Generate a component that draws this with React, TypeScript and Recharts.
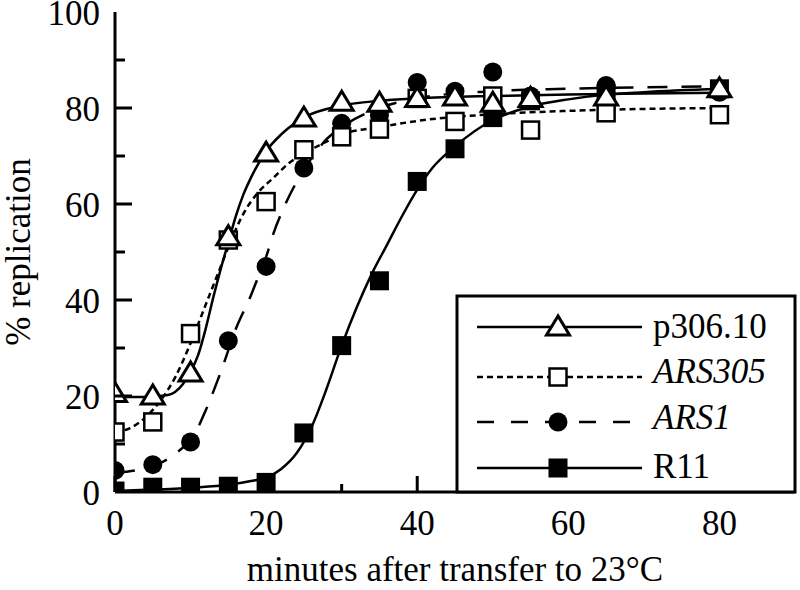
import React from 'react';
import { ComposedChart, Line, Scatter, XAxis, YAxis, Label } from 'recharts';

// sampling times (minutes)
const minutes = [0, 5, 10, 15, 20, 25, 30, 35, 40, 45, 50, 55, 65, 80];

// measured % replication
const p306 = [20.5, 20, 24.8, 53.2, 70.6, 77.9, 81.2, 81, 82, 82.3, 81, 82, 82.3, 84];
const ars305 = [12.5, 14.6, 33, 52.5, 60.5, 71.3, 74, 75.6, 82, 77.2, 82.5, 75.4, 79, 78.6];
const ars1 = [4.5, 5.7, 10.4, 31.5, 47, 67.5, 76.8, 78.5, 85.3, 83.5, 87.5, 82.5, 84.7, 83.3];
const r11 = [0.2, 1, 1, 1.2, 2, 12.3, 30.5, 44, 64.7, 71.5, 78, 81.5, 83, 84];

// fitted curves
const fitP306X = [0, 4, 7, 9, 10, 11, 12, 13, 14, 15, 16, 17, 18, 20, 22, 25, 30, 35, 40, 50, 60, 70, 80];
const fitP306Y = [19.8, 19.8, 20.2, 22.5, 25, 28.5, 34, 40.5, 46.5, 52, 57.5, 62, 65.5, 71, 74.5, 78, 80.5, 81.5, 82, 82.5, 82.8, 83, 83.2];
const fitArs305X = [0, 2, 4, 6, 8, 10, 12, 14, 15, 17, 19, 21, 23, 25, 28, 30, 35, 40, 50, 60, 70, 80];
const fitArs305Y = [12.5, 13.3, 15.5, 19, 24, 31, 39, 47, 51, 58, 62.5, 65.5, 68.5, 70.5, 73, 74.5, 76, 77.3, 78.7, 79.4, 79.8, 80];
const fitArs1X = [0, 3, 6, 8, 10, 11, 12, 14, 16, 18, 19, 20, 21, 22, 24, 26, 28, 30, 35, 40, 50, 60, 70, 80];
const fitArs1Y = [4, 4.6, 6, 8, 11, 13.5, 17, 25, 34, 41, 45, 49, 54, 58, 64.5, 69.5, 73.5, 76, 80, 82, 83.5, 84, 84.3, 84.5];
const fitR11X = [0, 5, 10, 15, 18, 20, 22, 24, 26, 28, 30, 32, 34, 36, 38, 40, 42, 45, 50, 55, 60, 65, 70, 80];
const fitR11Y = [0.2, 0.5, 0.9, 1.5, 2.3, 3, 4.8, 8, 13.5, 21.5, 30.5, 38.5, 45.5, 51.5, 57.5, 63, 67.5, 72, 77.5, 80.3, 81.8, 82.8, 83.3, 84];

const xTicks = [0, 10, 20, 30, 40, 50, 60, 70, 80];
const yTicks = [0, 10, 20, 30, 40, 50, 60, 70, 80, 90, 100];

const pts = (xs: number[], ys: number[]) => xs.map((x, i) => ({ x, y: ys[i] }));

const FONT = '"Liberation Serif", "Times New Roman", Times, serif';

const Txt = ({ x, y, anchor = 'middle', italic = false, rotate = 0, children }: any) => (
  <text
    transform={`translate(${x},${y}) rotate(${rotate})`}
    textAnchor={anchor}
    fontFamily={FONT}
    fontSize={35}
    fontStyle={italic ? 'italic' : 'normal'}
    fill="#000"
  >
    {children}
  </text>
);

const tickStroke = { stroke: '#000', strokeWidth: 3 };

const BottomTick = ({ x, y, payload }: any) => {
  const major = payload.value % 20 === 0;
  return (
    <g>
      <line x1={x} y1={y} x2={x} y2={y - (major ? 16 : 8)} {...tickStroke} />
      {major && <Txt x={x} y={y + 43}>{payload.value}</Txt>}
    </g>
  );
};

const TopTick = ({ x, y, payload }: any) => {
  const major = payload.value % 20 === 0;
  if (payload.value === 0) return <g />;
  return <line x1={x} y1={y} x2={x} y2={y + (major ? 14 : 8)} {...tickStroke} />;
};

const LeftTick = ({ x, y, payload }: any) => {
  const major = payload.value % 20 === 0;
  return (
    <g>
      {payload.value > 0 && payload.value < 100 && (
        <line x1={x} y1={y} x2={x + (major ? 17 : 10)} y2={y} {...tickStroke} />
      )}
      {major && <Txt x={x - 15} y={y + 13} anchor="end">{payload.value}</Txt>}
    </g>
  );
};

const RightTick = ({ x, y, payload }: any) => {
  const major = payload.value % 20 === 0;
  if (payload.value === 0 || payload.value === 100) return <g />;
  return <line x1={x} y1={y} x2={x - (major ? 17 : 8)} y2={y} {...tickStroke} />;
};

const Triangle = ({ cx, cy }: any) => (
  <polygon
    points={`${cx},${cy - 11} ${cx - 11.5},${cy + 8} ${cx + 11.5},${cy + 8}`}
    fill="#fff"
    stroke="#000"
    strokeWidth={3}
  />
);
const OpenSquare = ({ cx, cy }: any) => (
  <rect x={cx - 8.5} y={cy - 8.5} width={17} height={17} fill="#fff" stroke="#000" strokeWidth={2.5} />
);
const Dot = ({ cx, cy }: any) => <circle cx={cx} cy={cy} r={9.5} fill="#000" />;
const FilledSquare = ({ cx, cy }: any) => (
  <rect x={cx - 9.5} y={cy - 9.5} width={19} height={19} fill="#000" />
);

const legendRows = [
  { name: 'p306.10', italic: false, dash: undefined, Marker: Triangle },
  { name: 'ARS305', italic: true, dash: '6 4', Marker: OpenSquare },
  { name: 'ARS1', italic: true, dash: '17 17', Marker: Dot },
  { name: 'R11', italic: false, dash: undefined, Marker: FilledSquare },
];
const legendY = [327, 377, 422, 468];
const legendBase = [338, 383, 429, 478];

export default function App() {
  return (
    <div style={{ position: 'absolute', left: 0, top: 0, width: 800, height: 590, background: '#fff' }}>
      <ComposedChart width={800} height={590} margin={{ top: 12, right: 5, bottom: 38, left: 15 }}>
        <XAxis
          dataKey="x"
          type="number"
          domain={[0, 90]}
          ticks={xTicks}
          interval={0}
          allowDataOverflow
          height={60}
          tickSize={0}
          tickMargin={0}
          tickLine={false}
          tick={<BottomTick />}
          axisLine={{ stroke: '#000', strokeWidth: 3 }}
        >
          <Label
            content={({ viewBox }: any) => (
              <Txt x={viewBox.x + viewBox.width / 2} y={581}>minutes after transfer to 23°C</Txt>
            )}
          />
        </XAxis>
        <XAxis
          xAxisId="top"
          orientation="top"
          type="number"
          domain={[0, 90]}
          ticks={xTicks}
          interval={0}
          allowDataOverflow
          height={0}
          tickSize={0}
          tickMargin={0}
          tickLine={false}
          tick={<TopTick />}
          axisLine={{ stroke: '#000', strokeWidth: 3 }}
        />
        <YAxis
          dataKey="y"
          type="number"
          domain={[0, 100]}
          ticks={yTicks}
          interval={0}
          allowDataOverflow
          width={100}
          tickSize={0}
          tickMargin={0}
          tickLine={false}
          tick={<LeftTick />}
          axisLine={{ stroke: '#000', strokeWidth: 3 }}
        >
          <Label
            content={({ viewBox }: any) => (
              <Txt x={30} y={viewBox.y + viewBox.height / 2} rotate={-90}>% replication</Txt>
            )}
          />
        </YAxis>
        <YAxis
          yAxisId="right"
          orientation="right"
          type="number"
          domain={[0, 100]}
          ticks={yTicks}
          interval={0}
          allowDataOverflow
          width={0}
          tickSize={0}
          tickMargin={0}
          tickLine={false}
          tick={<RightTick />}
          axisLine={{ stroke: '#000', strokeWidth: 3 }}
        />

        <Line data={pts(fitR11X, fitR11Y)} dataKey="y" type="monotone" stroke="#000" strokeWidth={2.5} dot={false} isAnimationActive={false} />
        <Line data={pts(fitArs1X, fitArs1Y)} dataKey="y" type="monotone" stroke="#000" strokeWidth={2.5} strokeDasharray="20 14" dot={false} isAnimationActive={false} />
        <Line data={pts(fitArs305X, fitArs305Y)} dataKey="y" type="monotone" stroke="#000" strokeWidth={2.5} strokeDasharray="6 4" dot={false} isAnimationActive={false} />
        <Line data={pts(fitP306X, fitP306Y)} dataKey="y" type="monotone" stroke="#000" strokeWidth={2.5} dot={false} isAnimationActive={false} />

        <Scatter data={pts(minutes, r11)} shape={<FilledSquare />} isAnimationActive={false} />
        <Scatter data={pts(minutes, ars1)} shape={<Dot />} isAnimationActive={false} />
        <Scatter data={pts(minutes, ars305)} shape={<OpenSquare />} isAnimationActive={false} />
        <Scatter data={pts(minutes, p306)} shape={<Triangle />} isAnimationActive={false} />
      </ComposedChart>

      <svg width={800} height={590} style={{ position: 'absolute', left: 0, top: 0, pointerEvents: 'none' }}>
        <rect x={457} y={296} width={338} height={196} fill="#fff" stroke="#000" strokeWidth={3} />
        {legendRows.map((r, i) => {
          const y = legendY[i];
          const M = r.Marker;
          return (
            <g key={r.name}>
              <line x1={477} y1={y} x2={642} y2={y} stroke="#000" strokeWidth={2.5} strokeDasharray={r.dash} />
              <M cx={558} cy={y} />
              <Txt x={653} y={legendBase[i]} anchor="start" italic={r.italic}>{r.name}</Txt>
            </g>
          );
        })}
      </svg>
    </div>
  );
}
